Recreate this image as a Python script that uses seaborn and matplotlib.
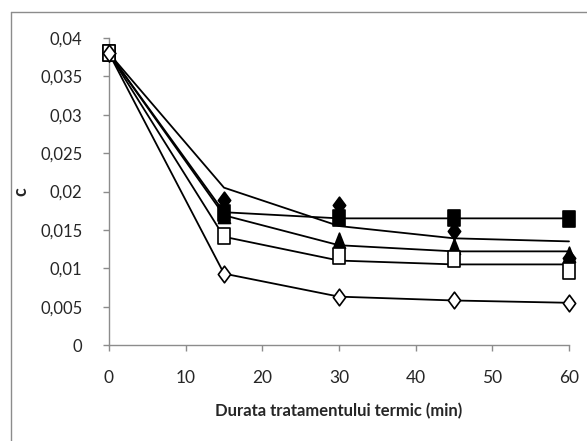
import numpy as np
import pandas as pd
import matplotlib
matplotlib.use("Agg")
import matplotlib.pyplot as plt
import seaborn as sns
from matplotlib.ticker import FuncFormatter, MultipleLocator
from matplotlib.lines import Line2D
from matplotlib.path import Path

# ---- data ----
time_min = [0, 15, 30, 45, 60]

# measured points (markers)
pts_filled_diamond = [0.038, 0.0189, 0.0183, 0.0149, 0.0113]
pts_filled_square = [0.038, 0.0172, 0.0165, 0.0166, 0.0164]
pts_filled_triangle = [0.038, 0.0168, 0.0136, 0.0128, 0.0117]
pts_open_square = [0.038, 0.0142, 0.0116, 0.0112, 0.0096]
pts_open_diamond = [0.038, 0.0093, 0.0063, 0.0058, 0.0055]

# connecting lines
line_a = [0.038, 0.0205, 0.0155, 0.0139, 0.0135]
line_b = [0.038, 0.0173, 0.0165, 0.0165, 0.0165]
line_c = [0.038, 0.0169, 0.0130, 0.0122, 0.0122]
line_d = [0.038, 0.0141, 0.0110, 0.0105, 0.0105]
line_e = [0.038, 0.0093, 0.0063, 0.0058, 0.0055]

x_label = "Durata tratamentului termic (min)"
y_label = "c"

# ---- build frames ----
lines = pd.DataFrame({
    "t": time_min * 5,
    "c": line_a + line_b + line_c + line_d + line_e,
    "s": sum([[k] * 5 for k in "ABCDE"], []),
})

sns.set_theme(style="white")
plt.rcParams["font.family"] = ["Lato", "DejaVu Sans"]

# slightly tall marker shapes (as in the reference)
tall_square = Path([(-0.36, -0.5), (0.36, -0.5), (0.36, 0.5), (-0.36, 0.5), (-0.36, -0.5)],
                   [Path.MOVETO, Path.LINETO, Path.LINETO, Path.LINETO, Path.CLOSEPOLY])
tall_diamond = Path([(0, -0.5), (0.37, 0), (0, 0.5), (-0.37, 0), (0, -0.5)],
                    [Path.MOVETO, Path.LINETO, Path.LINETO, Path.LINETO, Path.CLOSEPOLY])
tall_triangle = Path([(-0.36, -0.42), (0.36, -0.42), (0, 0.5), (-0.36, -0.42)],
                     [Path.MOVETO, Path.LINETO, Path.LINETO, Path.CLOSEPOLY])

fig = plt.figure(figsize=(5.87, 4.41), dpi=100)
ax = fig.add_axes([109 / 587, 1 - 345 / 441, 460 / 587, 307 / 441])

sns.lineplot(data=lines, x="t", y="c", units="s", estimator=None,
             color="black", lw=1.3, ax=ax, legend=False, zorder=2)

marker_sets = [
    (pts_filled_diamond, tall_diamond, "black", 12),
    (pts_filled_square, tall_square, "black", 12),
    (pts_filled_triangle, tall_triangle, "black", 12),
    (pts_open_square, tall_square, "white", 12),
    (pts_open_diamond, tall_diamond, "white", 12),
]
for i, (vals, mk, fc, ms) in enumerate(marker_sets):
    df = pd.DataFrame({"t": time_min, "c": vals})
    sns.scatterplot(data=df, x="t", y="c", marker=mk, s=ms ** 2,
                    facecolor=fc, edgecolor="black", linewidth=1.2,
                    ax=ax, legend=False, zorder=3 + i)

ax.set_xlim(0, 60)
ax.set_ylim(0, 0.04)
ax.xaxis.set_major_locator(MultipleLocator(10))
ax.yaxis.set_major_locator(MultipleLocator(0.005))
ax.yaxis.set_major_formatter(FuncFormatter(lambda v, p: ("%g" % round(v, 4)).replace(".", ",")))
ax.xaxis.set_major_formatter(FuncFormatter(lambda v, p: "%d" % v))

for side in ["top", "right"]:
    ax.spines[side].set_visible(False)
for side in ["left", "bottom"]:
    ax.spines[side].set_color("#8c8c8c")
    ax.spines[side].set_linewidth(1.0)
ax.tick_params(axis="y", which="major", direction="out", length=4,
               color="#8c8c8c", width=1, labelsize=12, pad=15, left=True)
ax.tick_params(axis="x", which="major", direction="out", length=4,
               color="#8c8c8c", width=1, labelsize=12.5, pad=14, bottom=True)
ax.set_xlabel(x_label, fontsize=12, fontweight="bold", labelpad=12)
ax.set_ylabel(y_label, fontsize=13, fontweight="bold", labelpad=8)
ax.margins(0)
for coll in ax.collections:
    coll.set_clip_on(False)
for ln in ax.lines:
    ln.set_clip_on(False)

# outer chart border (top & left visible)
fig.add_artist(Line2D([11 / 587, 11 / 587], [0, 1 - 12 / 441], color="#8c8c8c", lw=1.0, transform=fig.transFigure))
fig.add_artist(Line2D([11 / 587, 1], [1 - 12 / 441, 1 - 12 / 441], color="#8c8c8c", lw=1.0, transform=fig.transFigure))

fig.savefig("out.png", dpi=100)
